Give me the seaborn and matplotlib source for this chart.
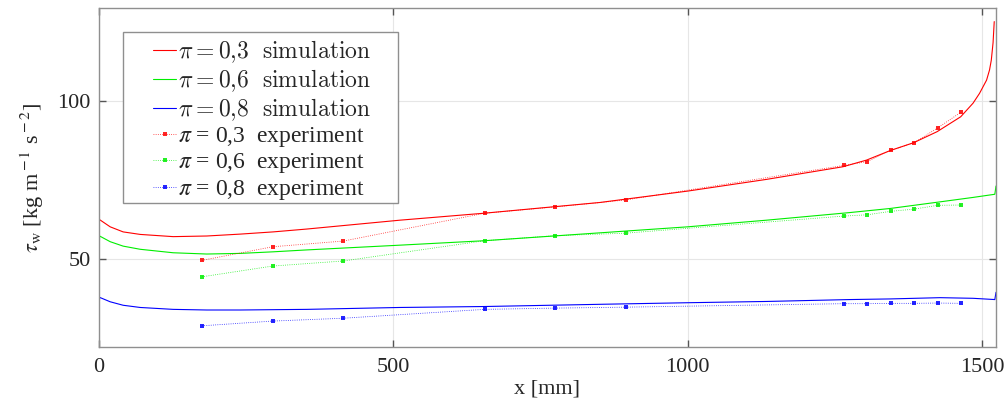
"""Wall shear stress along x: simulation vs experiment for three pi values."""

import matplotlib

matplotlib.use("Agg")
import matplotlib.pyplot as plt
import pandas as pd
import seaborn as sns
from matplotlib.patches import Rectangle

# simulation curves
sim_x_03 = [0, 19, 41, 70, 126, 183, 240, 296, 353, 511, 654, 851, 1000, 1134,
            1264, 1304, 1344, 1384, 1424, 1464, 1485, 1496, 1508, 1513, 1516, 1519, 1521]
sim_y_03 = [62.7, 60.3, 58.7, 57.9, 57.2, 57.4, 58.0, 58.7, 59.6, 62.4, 64.6, 68.0,
            71.6, 75.3, 79.3, 81.4, 84.4, 86.9, 90.4, 95.1, 99.4, 102.5, 106.7,
            109.9, 113.0, 118.5, 125.2]

sim_x_06 = [0, 1, 19, 41, 70, 126, 183, 240, 296, 353, 511, 654, 851, 1000, 1134,
            1275, 1344, 1429, 1485, 1522, 1524]
sim_y_06 = [50.8, 57.4, 55.6, 54.2, 53.2, 52.1, 51.7, 51.9, 52.4, 53.0, 54.5, 55.9,
            58.4, 60.3, 62.4, 64.8, 66.1, 68.2, 69.6, 70.6, 73.2]

sim_x_08 = [0, 1, 19, 41, 70, 126, 183, 240, 296, 353, 511, 654, 851, 1000, 1134,
            1275, 1344, 1429, 1485, 1522, 1524]
sim_y_08 = [33.4, 38.0, 36.6, 35.5, 34.8, 34.2, 34.0, 34.0, 34.1, 34.2, 34.8, 35.1,
            35.8, 36.3, 36.7, 37.3, 37.5, 37.9, 37.7, 37.3, 39.6]

# experiment points
exp_x = [175, 295, 415, 655, 775, 895, 1265, 1305, 1345, 1385, 1425, 1465]
exp_y_03 = [49.7, 54.0, 55.8, 64.6, 66.6, 68.8, 79.7, 80.9, 84.5, 86.9, 91.6, 96.6]
exp_y_06 = [44.5, 47.9, 49.5, 55.9, 57.5, 58.3, 63.7, 64.1, 65.2, 65.9, 67.1, 67.2]
exp_y_08 = [29.0, 30.5, 31.4, 34.2, 34.6, 34.9, 36.0, 36.0, 36.1, 36.1, 36.2, 36.1]

pi_labels = ["0,3", "0,6", "0,8"]
colors = ["#ff0000", "#00ee00", "#0000ff"]


def main() -> None:
    sns.set_style("ticks")
    plt.rcParams["font.family"] = ["Liberation Serif", "DejaVu Serif"]
    plt.rcParams["mathtext.fontset"] = "stix"

    fig = plt.figure(figsize=(10.08, 4.04), dpi=100)
    ax = fig.add_axes([99 / 1008, 57 / 404, 897 / 1008, 339 / 404])

    sims = [(sim_x_03, sim_y_03), (sim_x_06, sim_y_06), (sim_x_08, sim_y_08)]
    for (xs, ys), pi, color in zip(sims, pi_labels, colors):
        frame = pd.DataFrame({"x": xs, "tau": ys})
        pi_tex = pi.replace(",", "{,}")
        sns.lineplot(data=frame, x="x", y="tau", ax=ax, color=color, lw=0.8,
                     sort=False, estimator=None,
                     label=rf"$\pi = {pi_tex}\ \ \mathrm{{simulation}}$")

    for ys, pi, color in zip([exp_y_03, exp_y_06, exp_y_08], pi_labels, colors):
        frame = pd.DataFrame({"x": exp_x, "tau": ys})
        sns.lineplot(data=frame, x="x", y="tau", ax=ax, color=color, lw=0.6,
                     linestyle=":", marker="s", markersize=2.2, markeredgewidth=0,
                     sort=False, estimator=None,
                     label=rf"$\pi$ = {pi}  experiment")
    for line in ax.lines[3:]:
        line.set_alpha(0.85)

    ax.set_xlim(0, 1524)
    ax.set_ylim(22.3, 129.5)
    ax.set_xticks([0, 500, 1000, 1500])
    ax.set_yticks([50, 100])
    ax.grid(True, color="#e6e6e6", lw=0.8)
    ax.set_axisbelow(True)
    for spine in ax.spines.values():
        spine.set_visible(True)
        spine.set_color("#8f8f8f")
        spine.set_linewidth(1.0)
    ax.tick_params(direction="in", length=5, width=1.0, color="#555555",
                   top=True, right=True, labelsize=16)
    ax.tick_params(axis="x", pad=8)
    ax.tick_params(axis="y", pad=6)

    ax.set_xlabel("x [mm]", fontsize=16, labelpad=1.5)
    ax.set_ylabel(r"$\tau_{\rm w}$ [kg m$^{\rm -1}$ s$^{\rm -2}$]", fontsize=16,
                  labelpad=8)

    # legend frame drawn separately so the padding matches the original
    ax.add_patch(Rectangle((0.0268, 0.4239), 0.3065, 0.5044, transform=ax.transAxes,
                           facecolor="white", edgecolor="#8f8f8f", lw=1.0, zorder=5))
    leg = ax.legend(loc="upper left", bbox_to_anchor=(0.060, 0.911),
                    borderaxespad=0, borderpad=0, fontsize=17, frameon=False,
                    handlelength=1.0, handletextpad=0.05, labelspacing=0.1)
    leg.set_zorder(6)
    for text in leg.get_texts()[:3]:
        text.set_math_fontfamily("cm")

    fig.savefig("out.png", dpi=100)
    plt.close(fig)


if __name__ == "__main__":
    main()
